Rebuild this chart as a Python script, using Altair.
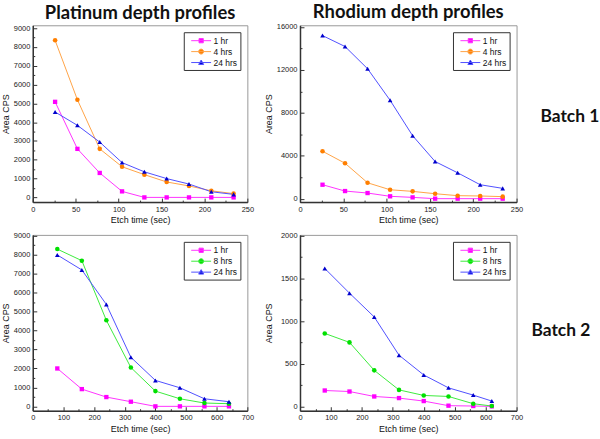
import altair as alt
import pandas as pd

# ---------------- data ----------------
b1_x = [26, 52, 78, 104, 130, 156, 182, 208, 234]
pt1_1hr = [5080, 2580, 1300, 320, 0, 0, 0, 0, 0]
pt1_4hrs = [8350, 5190, 2580, 1630, 1210, 820, 610, 350, 200]
pt1_24hrs = [4540, 3830, 2940, 1850, 1360, 1000, 710, 300, 160]

rh1_1hr = [1300, 710, 525, 220, 120, 0, 0, 0, 0]
rh1_4hrs = [4420, 3300, 1480, 830, 680, 460, 280, 250, 190]
rh1_24hrs = [15200, 14180, 12110, 9170, 5870, 3460, 2410, 1300, 960]

pt2_x = [80, 160, 240, 320, 400, 480, 560, 640]
pt2_1hr = [2000, 910, 490, 245, 0, 0, 0, 0]
pt2_8hrs = [8300, 7690, 4540, 2050, 805, 400, 175, 140]
pt2_24hrs = [7990, 7200, 5380, 2590, 1370, 980, 400, 245]

rh2_x = [80, 160, 240, 320, 400, 480, 560, 620]
rh2_1hr = [186, 174, 116, 97, 62, 8, 4, 0]
rh2_8hrs = [855, 750, 422, 193, 128, 116, 31, 4]
rh2_24hrs = [1617, 1327, 1048, 600, 368, 217, 132, 62]

series_b1 = ["1 hr", "4 hrs", "24 hrs"]
series_b2 = ["1 hr", "8 hrs", "24 hrs"]

# tick values (major, minor)
ticks_b1x = [0, 50, 100, 150, 200, 250]
minor_b1x = [25, 75, 125, 175, 225]
ticks_b2x = [0, 100, 200, 300, 400, 500, 600, 700]
minor_b2x = [50, 150, 250, 350, 450, 550, 650]
ticks_pt = [0, 1000, 2000, 3000, 4000, 5000, 6000, 7000, 8000, 9000]
minor_pt = [500, 1500, 2500, 3500, 4500, 5500, 6500, 7500, 8500]
ticks_rh1 = [0, 4000, 8000, 12000, 16000]
minor_rh1 = [2000, 6000, 10000, 14000]
ticks_rh2 = [0, 500, 1000, 1500, 2000]
minor_rh2 = [250, 750, 1250, 1750]

# style per series: (line colour, marker colour, shape, marker size, legend path)
STYLE = {
    "1 hr": ("#FF33FF", "#FF00FF", "square", 19,
             "M-2,0H2M-0.43,-0.43H0.43V0.43H-0.43Z"),
    "4 hrs": ("#FFA347", "#FF7F00", "circle", 21,
              "M-2,0H2M0.5,0A0.5,0.5 0 1,1 -0.5,0A0.5,0.5 0 1,1 0.5,0Z"),
    "8 hrs": ("#3CEB3C", "#00E000", "circle", 21,
              "M-2,0H2M0.5,0A0.5,0.5 0 1,1 -0.5,0A0.5,0.5 0 1,1 0.5,0Z"),
    "24 hrs": ("#5050FF", "#0000CC", "triangle-up", 22,
               "M-2,0H2M0,-0.5L0.5,0.4L-0.5,0.4Z"),
}

LABEL_FONT = "Liberation Sans"


def make_df(xs, series, values):
    rows = []
    for s, vals in zip(series, values):
        lc = STYLE[s][0]
        for x, y in zip(xs, vals):
            rows.append({"x": x, "y": y, "series": s, "lc": lc})
    return pd.DataFrame(rows)


def tick_axis(orient, values, size):
    return alt.Axis(orient=orient, values=values, offset=-size, tickSize=size,
                    ticks=True, domain=False, labels=False, title=None,
                    tickColor="#333", tickWidth=1)


def panel(df, series, xdom, xticks, xminor, ydom, yticks, yminor, yext, w, h,
          title=None, batch=None, batch_pos=None):
    legend = alt.Legend(
        title=None, orient="top-right", offset=7, padding=3, rowPadding=1,
        strokeColor="#333", fillColor="white", labelFont=LABEL_FONT,
        labelFontSize=8.5, labelColor="#111", symbolSize=100,
        symbolOffset=9, labelOffset=7, symbolStrokeWidth=1,
        symbolOpacity=1,
    )
    xscale = alt.Scale(domain=xdom, nice=False, zero=False)
    yscale = alt.Scale(domain=ydom, nice=False, zero=False)

    def xe(axis):
        return alt.X("x:Q", scale=xscale, axis=axis)

    def ye(axis):
        return alt.Y("y:Q", scale=yscale, axis=axis)

    x_main = alt.Axis(orient="bottom", values=xticks, title="Etch time (sec)",
                      format="d", ticks=False, labelPadding=3)
    y_main = alt.Axis(orient="left", values=yticks, title="Area CPS",
                      format="d", ticks=False, labelPadding=3,
                      minExtent=yext, maxExtent=yext)
    base = alt.Chart(df)
    line = base.mark_line(strokeWidth=1).encode(
        x=xe(x_main), y=ye(y_main),
        color=alt.Color("lc:N", scale=None),
        detail="series:N",
    )
    layers = [line]
    axis_sets = [
        (tick_axis("bottom", xticks, 4), tick_axis("left", yticks, 4)),
        (tick_axis("bottom", xminor, 2), tick_axis("left", yminor, 2)),
        (None, None),
    ]
    for s, (ax, ay) in zip(series, axis_sets):
        lc, mc, shp, msz, _ = STYLE[s]
        layers.append(
            base.transform_filter(alt.datum.series == s).mark_point(
                filled=True, opacity=1, shape=shp, size=msz, color=mc
            ).encode(x=xe(ax), y=ye(ay))
        )
    leg = base.mark_point(filled=True, opacity=1, strokeWidth=1).encode(
        x=xe(None), y=ye(None),
        fill=alt.Fill("series:N",
                      scale=alt.Scale(domain=series,
                                      range=[STYLE[s][1] for s in series]),
                      legend=legend),
        stroke=alt.Stroke("series:N",
                          scale=alt.Scale(domain=series,
                                          range=[STYLE[s][0] for s in series]),
                          legend=legend),
        shape=alt.Shape("series:N",
                        scale=alt.Scale(domain=series,
                                        range=[STYLE[s][4] for s in series]),
                        legend=legend),
    ).transform_filter("false")
    layers.append(leg)
    if batch is not None:
        txt = alt.Chart(pd.DataFrame({"t": [batch]})).mark_text(
            font="Lato", fontSize=17.5, fontWeight="bold", align="left",
            baseline="middle", color="#111").encode(
            text="t:N", x=alt.value(batch_pos[0]), y=alt.value(batch_pos[1]))
        layers.append(txt)
    props = dict(width=w, height=h)
    if title is not None:
        props["title"] = alt.TitleParams(
            title, font="Lato", fontSize=18.5, fontWeight="bold",
            anchor="middle", frame="group", offset=2, color="#111")
    return alt.layer(*layers).resolve_axis(
        x="independent", y="independent").properties(**props)


df_pt1 = make_df(b1_x, series_b1, [pt1_1hr, pt1_4hrs, pt1_24hrs])
df_rh1 = make_df(b1_x, series_b1, [rh1_1hr, rh1_4hrs, rh1_24hrs])
df_pt2 = make_df(pt2_x, series_b2, [pt2_1hr, pt2_8hrs, pt2_24hrs])
df_rh2 = make_df(rh2_x, series_b2, [rh2_1hr, rh2_8hrs, rh2_24hrs])

p1 = panel(df_pt1, series_b1, [0, 250], ticks_b1x, minor_b1x,
           [-250, 9150], ticks_pt, minor_pt,
           20, 216, 178, title="Platinum depth profiles")
p2 = panel(df_rh1, series_b1, [0, 250], ticks_b1x, minor_b1x,
           [-320, 16160], ticks_rh1, minor_rh1,
           25, 218, 178, title="Rhodium depth profiles",
           batch="Batch 1", batch_pos=(242, 92))
p3 = panel(df_pt2, series_b2, [0, 700], ticks_b2x, minor_b2x,
           [-230, 9050], ticks_pt, minor_pt,
           20, 216, 177)
p4 = panel(df_rh2, series_b2, [0, 700], ticks_b2x, minor_b2x,
           [-51, 2010], ticks_rh2, minor_rh2,
           25, 218, 177, batch="Batch 2", batch_pos=(233, 97))

chart = alt.concat(p1, p2, p3, p4, columns=2, spacing={"row": 6, "column": 9},
                   align="each").resolve_scale(
    fill="independent", stroke="independent", shape="independent"
).resolve_legend(
    fill="independent", stroke="independent", shape="independent"
).properties(
    padding={"left": 1, "top": 0, "right": 0, "bottom": 0}
).configure_view(stroke="#999", strokeWidth=1).configure_axis(
    domainColor="#333", domainWidth=1.5, tickColor="#333",
    labelFont=LABEL_FONT, labelFontSize=7.5,
    labelColor="#222", titleFont=LABEL_FONT, titleFontSize=9,
    titleFontWeight="normal", titleColor="#111", grid=False,
    labelFlush=False, labelOverlap=False
).configure_axisY(titlePadding=2).configure_axisX(titlePadding=3)

chart.save("out.html", embed_options={"renderer": "svg", "actions": False})
